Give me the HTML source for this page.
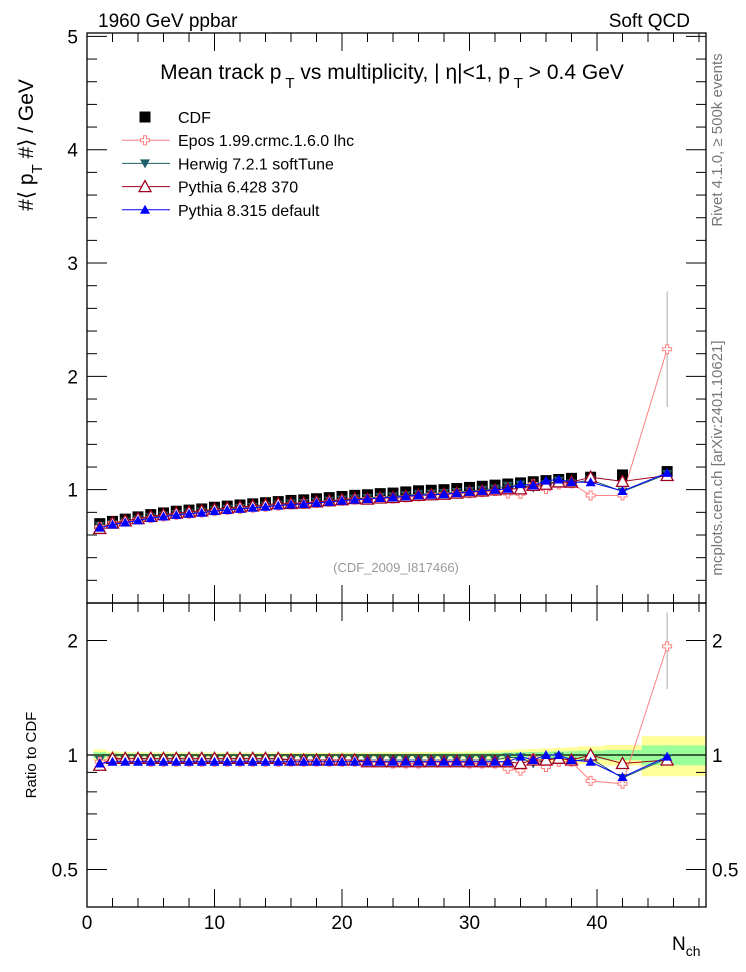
<!DOCTYPE html>
<html><head><meta charset="utf-8"><style>
body{margin:0;background:#fff;}
svg{display:block;font-family:"Liberation Sans",sans-serif;}
</style></head><body>
<svg id="c" width="746" height="972" viewBox="0 0 746 972">
<text x="98" y="27" font-size="19">1960 GeV ppbar</text>
<text x="690" y="27" font-size="19" text-anchor="end">Soft QCD</text>
<text x="392" y="79" font-size="21" text-anchor="middle">Mean track p<tspan dy="9" font-size="15"> T</tspan><tspan dy="-9"> vs multiplicity, | η|&lt;1, p</tspan><tspan dy="9" font-size="15"> T</tspan><tspan dy="-9"> &gt; 0.4 GeV</tspan></text>
<text transform="translate(33,145) rotate(-90)" font-size="21" text-anchor="middle">#⟨ p<tspan dy="9" font-size="15">T</tspan><tspan dy="-9"> #⟩ / GeV</tspan></text>
<text transform="translate(36,755) rotate(-90)" font-size="15" text-anchor="middle">Ratio to CDF</text>
<text x="672" y="950" font-size="19">N<tspan dy="6" font-size="14">ch</tspan></text>
<text transform="translate(722,140) rotate(-90)" font-size="15" fill="#777" text-anchor="middle">Rivet 4.1.0, ≥ 500k events</text>
<text transform="translate(722,458) rotate(-90)" font-size="15" fill="#777" text-anchor="middle">mcplots.cern.ch [arXiv:2401.10621]</text>
<text x="396" y="572" font-size="13" fill="#999" text-anchor="middle">(CDF_2009_I817466)</text>
<g id="bands"></g>
<g id="marks"></g>
<g id="axes"></g>
<g id="legend"></g>
</svg>
<script>
const nch=[1,2,3,4,5,6,7,8,9,10,11,12,13,14,15,16,17,18,19,20,21,22,23,24,25,26,27,28,29,30,31,32,33,34,35,36,37,38,39.5,42,45.5];
const cdf=[0.70,0.72,0.74,0.76,0.78,0.795,0.81,0.82,0.83,0.845,0.855,0.865,0.875,0.885,0.895,0.905,0.91,0.92,0.93,0.94,0.95,0.955,0.965,0.97,0.98,0.99,0.995,1.00,1.01,1.02,1.03,1.04,1.05,1.06,1.07,1.08,1.09,1.10,1.11,1.13,1.16];
const cdfErr=[0.012,0.008,0.006,0.006,0.006,0.006,0.006,0.006,0.006,0.006,0.006,0.006,0.006,0.006,0.006,0.006,0.006,0.006,0.006,0.007,0.007,0.007,0.008,0.008,0.008,0.009,0.009,0.01,0.01,0.011,0.012,0.014,0.016,0.018,0.02,0.022,0.024,0.026,0.03,0.035,0.07];
const rEpos=[0.96,0.98,0.97,0.97,0.96,0.96,0.96,0.96,0.96,0.96,0.96,0.96,0.96,0.96,0.96,0.96,0.96,0.96,0.96,0.96,0.96,0.96,0.96,0.95,0.95,0.95,0.96,0.96,0.96,0.95,0.95,0.95,0.92,0.91,0.98,0.93,0.96,0.96,0.855,0.84,1.93];
const eEpos=[0.01,0.01,0.01,0.01,0.01,0.01,0.01,0.01,0.01,0.01,0.01,0.01,0.01,0.01,0.01,0.01,0.01,0.01,0.01,0.01,0.01,0.01,0.01,0.01,0.01,0.01,0.01,0.01,0.01,0.01,0.01,0.01,0.02,0.02,0.03,0.02,0.02,0.02,0.02,0.02,0.44];
const rHerwig=[0.97,0.97,0.97,0.97,0.97,0.97,0.97,0.97,0.97,0.97,0.97,0.97,0.97,0.97,0.97,0.97,0.97,0.97,0.97,0.97,0.97,0.97,0.97,0.97,0.97,0.97,0.97,0.97,0.97,0.97,0.97,0.97,0.985,0.985,0.95,0.97,0.99,0.96,0.98,0.87,0.98];
const rPy6=[0.94,0.98,0.98,0.98,0.98,0.98,0.98,0.98,0.98,0.98,0.98,0.98,0.98,0.98,0.98,0.97,0.97,0.97,0.97,0.97,0.97,0.96,0.96,0.96,0.96,0.96,0.96,0.96,0.96,0.96,0.96,0.96,0.96,0.95,0.97,0.97,0.98,0.97,1.0,0.95,0.97];
const rPy8=[0.95,0.96,0.96,0.96,0.96,0.96,0.96,0.96,0.96,0.96,0.96,0.96,0.96,0.96,0.96,0.96,0.96,0.96,0.96,0.96,0.96,0.96,0.96,0.96,0.96,0.96,0.96,0.96,0.96,0.96,0.96,0.96,0.96,0.99,0.97,1.0,1.0,0.97,0.96,0.875,0.99];
const binLo=[0.5,1.5,2.5,3.5,4.5,5.5,6.5,7.5,8.5,9.5,10.5,11.5,12.5,13.5,14.5,15.5,16.5,17.5,18.5,19.5,20.5,21.5,22.5,23.5,24.5,25.5,26.5,27.5,28.5,29.5,30.5,31.5,32.5,33.5,34.5,35.5,36.5,37.5,38.5,40.5,43.5];
const binHi=[1.5,2.5,3.5,4.5,5.5,6.5,7.5,8.5,9.5,10.5,11.5,12.5,13.5,14.5,15.5,16.5,17.5,18.5,19.5,20.5,21.5,22.5,23.5,24.5,25.5,26.5,27.5,28.5,29.5,30.5,31.5,32.5,33.5,34.5,35.5,36.5,37.5,38.5,40.5,43.5,48.5];
const yTicks=[1,2,3,4,5];
const xTicks=[0,10,20,30,40];
const rTicks=[0.5,1,2];

const NS="http://www.w3.org/2000/svg";
const L=87,R=706,T=33,B=603,RT=603,RB=907;
const sx=v=>L+v*12.75;
const sy=v=>B-v*(B-T)/5.03;
const sr=v=>755-114.5*Math.log2(v);
function mk(p,tag,a){const e=document.createElementNS(NS,tag);for(const k in a)e.setAttribute(k,a[k]);p.appendChild(e);return e;}
const bands=document.getElementById('bands'),marks=document.getElementById('marks'),axes=document.getElementById('axes'),leg=document.getElementById('legend');

nch.forEach((n,i)=>{
  const rel=cdfErr[i]/cdf[i];
  const y2=mk(bands,'rect',{x:sx(binLo[i]),width:sx(binHi[i])-sx(binLo[i]),y:sr(1+2*rel),height:sr(1-2*rel)-sr(1+2*rel),fill:'#ffff99'});
  
  
  const g1=mk(bands,'rect',{x:sx(binLo[i]),width:sx(binHi[i])-sx(binLo[i]),y:sr(1+rel),height:sr(1-rel)-sr(1+rel),fill:'#99ff99'});
  
  
});
const one=mk(bands,'line',{x1:L,x2:R,y1:sr(1),y2:sr(1),stroke:'#000','stroke-width':1.2});



function marker(g,type,x,y,col){
  if(type==='sq') return mk(g,'rect',{x:x-5.5,y:y-5.5,width:11,height:11,fill:col});
  if(type==='cross') return mk(g,'path',{d:`M${x-1.5},${y-4.5}h3v3h3v3h-3v3h-3v-3h-3v-3h3z`,fill:'#fff',stroke:col,'stroke-width':1});
  if(type==='tdown') return mk(g,'path',{d:`M${x-5},${y-4}L${x+5},${y-4}L${x},${y+5}z`,fill:col});
  if(type==='tup_o') return mk(g,'path',{d:`M${x-6},${y+5}L${x+6},${y+5}L${x},${y-6}z`,fill:'#fff',stroke:col,'stroke-width':1.3});
  if(type==='tup') return mk(g,'path',{d:`M${x-5},${y+4}L${x+5},${y+4}L${x},${y-5}z`,fill:col});
}
const series=[
 {name:'herwig',r:rHerwig,col:'#1f5f6a',m:'tdown'},
 {name:'epos',r:rEpos,col:'#ff7f7f',m:'cross',e:eEpos},
 {name:'pythia6',r:rPy6,col:'#a00020',m:'tup_o'},
 {name:'pythia8',r:rPy8,col:'#0000ff',m:'tup'}
];
const gd=mk(marks,'g',{});


nch.forEach((n,i)=>{const s=marker(gd,'sq',sx(n),sy(cdf[i]),'#000');
 
 });
series.forEach(s=>{
  const g=mk(marks,'g',{});
  
  
  const main=nch.map((n,i)=>sx(n)+','+sy(cdf[i]*s.r[i])).join(' ');
  const rat=nch.map((n,i)=>sx(n)+','+sr(s.r[i])).join(' ');
  mk(g,'polyline',{points:main,fill:'none',stroke:s.col,'stroke-width':1});
  mk(g,'polyline',{points:rat,fill:'none',stroke:s.col,'stroke-width':1});
  if(s.e){nch.forEach((n,i)=>{if(s.e[i]>0.015){
    mk(g,'line',{x1:sx(n),x2:sx(n),y1:sy(cdf[i]*(s.r[i]-s.e[i])),y2:sy(cdf[i]*(s.r[i]+s.e[i])),stroke:'#aaa'});
    mk(g,'line',{x1:sx(n),x2:sx(n),y1:sr(s.r[i]-s.e[i]),y2:sr(s.r[i]+s.e[i]),stroke:'#aaa'});}});}
  nch.forEach((n,i)=>{
    const a=marker(g,s.m,sx(n),sy(cdf[i]*s.r[i]),s.col);
    
    
    const b=marker(g,s.m,sx(n),sr(s.r[i]),s.col);
    
    
  });
});
mk(axes,'rect',{x:L,y:T,width:R-L,height:B-T,fill:'none',stroke:'#000','stroke-width':1.3});
mk(axes,'rect',{x:L,y:RT,width:R-L,height:RB-RT,fill:'none',stroke:'#000','stroke-width':1.3});
for(let v=0;v<=48;v+=2){const big=v%10===0;const h=big?18:9;
  [[T,1],[RT,-1],[RT,1],[RB,-1],[B,-1]].forEach(([y,d])=>mk(axes,'line',{x1:sx(v),x2:sx(v),y1:y,y2:y+d*h,stroke:'#000'}));}
xTicks.forEach(v=>{const t=mk(axes,'text',{x:sx(v),y:929,'font-size':19,'text-anchor':'middle'});t.textContent=v;
 
 });
for(let v=0;v<=5.001;v+=0.2){const big=Math.abs(v-Math.round(v))<1e-6;const h=big?20:10;
  mk(axes,'line',{x1:L,x2:L+h,y1:sy(v),y2:sy(v),stroke:'#000'});mk(axes,'line',{x1:R,x2:R-h,y1:sy(v),y2:sy(v),stroke:'#000'});}
yTicks.forEach(v=>{const t=mk(axes,'text',{x:78,y:sy(v)+7,'font-size':19,'text-anchor':'end'});t.textContent=v;
 
 });
[0.5,0.6,0.7,0.8,0.9,1,2].forEach(v=>{const big=rTicks.includes(v);const h=big?20:10;
  mk(axes,'line',{x1:L,x2:L+h,y1:sr(v),y2:sr(v),stroke:'#000'});mk(axes,'line',{x1:R,x2:R-h,y1:sr(v),y2:sr(v),stroke:'#000'});});
rTicks.forEach(v=>{[78,712].forEach((x,k)=>{const t=mk(axes,'text',{x:x,y:sr(v)+7,'font-size':19,'text-anchor':k?'start':'end'});t.textContent=v;
 
 });});
const items=[['CDF','sq','#000',false],['Epos 1.99.crmc.1.6.0 lhc','cross','#ff7f7f',true],['Herwig 7.2.1 softTune','tdown','#1f5f6a',true],['Pythia 6.428 370','tup_o','#a00020',true],['Pythia 8.315 default','tup','#0000ff',true]];
items.forEach((it,i)=>{const y=117+i*23.2;const g=mk(leg,'g',{});
  
  
  if(it[3])mk(g,'line',{x1:122,x2:170,y1:y,y2:y,stroke:it[2]});
  marker(g,it[1],145,y,it[2]);
  const t=mk(g,'text',{x:178,y:y+6,'font-size':16});t.textContent=it[0];});
</script>
</body></html>
